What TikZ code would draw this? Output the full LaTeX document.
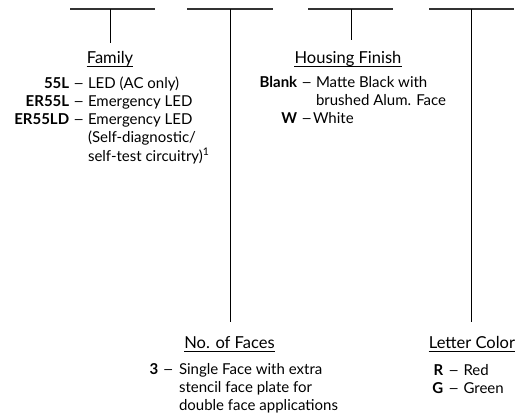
\documentclass[tikz,border=0pt]{standalone}
\usepackage{fontspec}
\setmainfont{Lato}
\usepackage{array}
\usepackage{graphicx}
\newcolumntype{K}{>{\bfseries\raggedleft\arraybackslash}p{80pt}}
\newcommand{\dsh}{\scalebox{1.3}[1]{–}}
\tikzset{
  bar/.style={line width=1.4pt, draw=black!80},
  stem/.style={line width=0.9pt, draw=black},
  head/.style={inner sep=0pt, anchor=base, font=\fontsize{16.5}{18.3}\selectfont},
  items/.style={inner sep=0pt, anchor=base west, font=\fontsize{15}{18.3}\selectfont},
  uline/.style={line width=0.8pt, draw=black}
}
\newcommand{\uln}[1]{\draw[uline] ([yshift=-2.6pt]#1.base west) -- ([yshift=-2.6pt]#1.base east);}
\begin{document}
\begin{tikzpicture}[x=1pt,y=-1pt]
\useasboundingbox (0,0) rectangle (520,413);
% bars
\coordinate (b1l) at (70,9);  \coordinate (b1r) at (155,9); \coordinate (b1m) at (110,9);
\coordinate (b2l) at (187,9); \coordinate (b2r) at (273,9); \coordinate (b2m) at (230,9);
\coordinate (b3l) at (308,9); \coordinate (b3r) at (393,9); \coordinate (b3m) at (351,9);
\coordinate (b4l) at (429,9); \coordinate (b4r) at (514,9); \coordinate (b4m) at (471,9);
\coordinate (e1) at (110,43);
\coordinate (e2) at (230,322);
\coordinate (e3) at (351,40);
\coordinate (e4) at (471,322);
\draw[bar] (b1l) -- (b1r);
\draw[bar] (b2l) -- (b2r);
\draw[bar] (b3l) -- (b3r);
\draw[bar] (b4l) -- (b4r);
\draw[stem] (b1m) -- (e1);
\draw[stem] (b2m) -- (e2);
\draw[stem] (b3m) -- (e3);
\draw[stem] (b4m) -- (e4);
% headers
\node[head] (hfam) at (110,63.3) {Family};
\node[head] (hhou) at (348,63.3) {Housing Finish};
\node[head] (hfac) at (229.5,348.3) {No. of Faces};
\node[head] (hlet) at (472,348.3) {Letter Color};
\uln{hfam}\uln{hhou}\uln{hfac}\uln{hlet}
% items
\node[items] (tfam) at (-11,88) {\begin{tabular}[t]{@{}K@{\hspace{4pt}}c@{\hspace{3.5pt}}l@{}}
55L & \dsh & LED (AC only)\\
ER55L & \dsh & Emergency LED\\
ER55LD & \dsh & Emergency LED\\
 & & (Self-diagnostic/\\
 & & self-test circuitry)\textsuperscript{1}
\end{tabular}};
\node[items] (thou) at (217,87) {\begin{tabular}[t]{@{}K@{\hspace{4pt}}c@{\hspace{3.5pt}}l@{}}
Blank & \dsh & Matte Black with\\
 & & brushed Alum. Face\\
W\hspace{2pt} & \dsh & \hspace{-3pt}White
\end{tabular}};
\node[items] (tfac) at (78,374) {\begin{tabular}[t]{@{}K@{\hspace{4.5pt}}c@{\hspace{5pt}}l@{}}
3 & \dsh & Single Face with extra\\
 & & stencil face plate for\\
 & & double face applications
\end{tabular}};
\node[items] (tlet) at (363,375) {\begin{tabular}[t]{@{}K@{\hspace{5pt}}c@{\hspace{4pt}}l@{}}
R & \dsh & Red\\
G & \dsh & Green
\end{tabular}};
\end{tikzpicture}
\end{document}
